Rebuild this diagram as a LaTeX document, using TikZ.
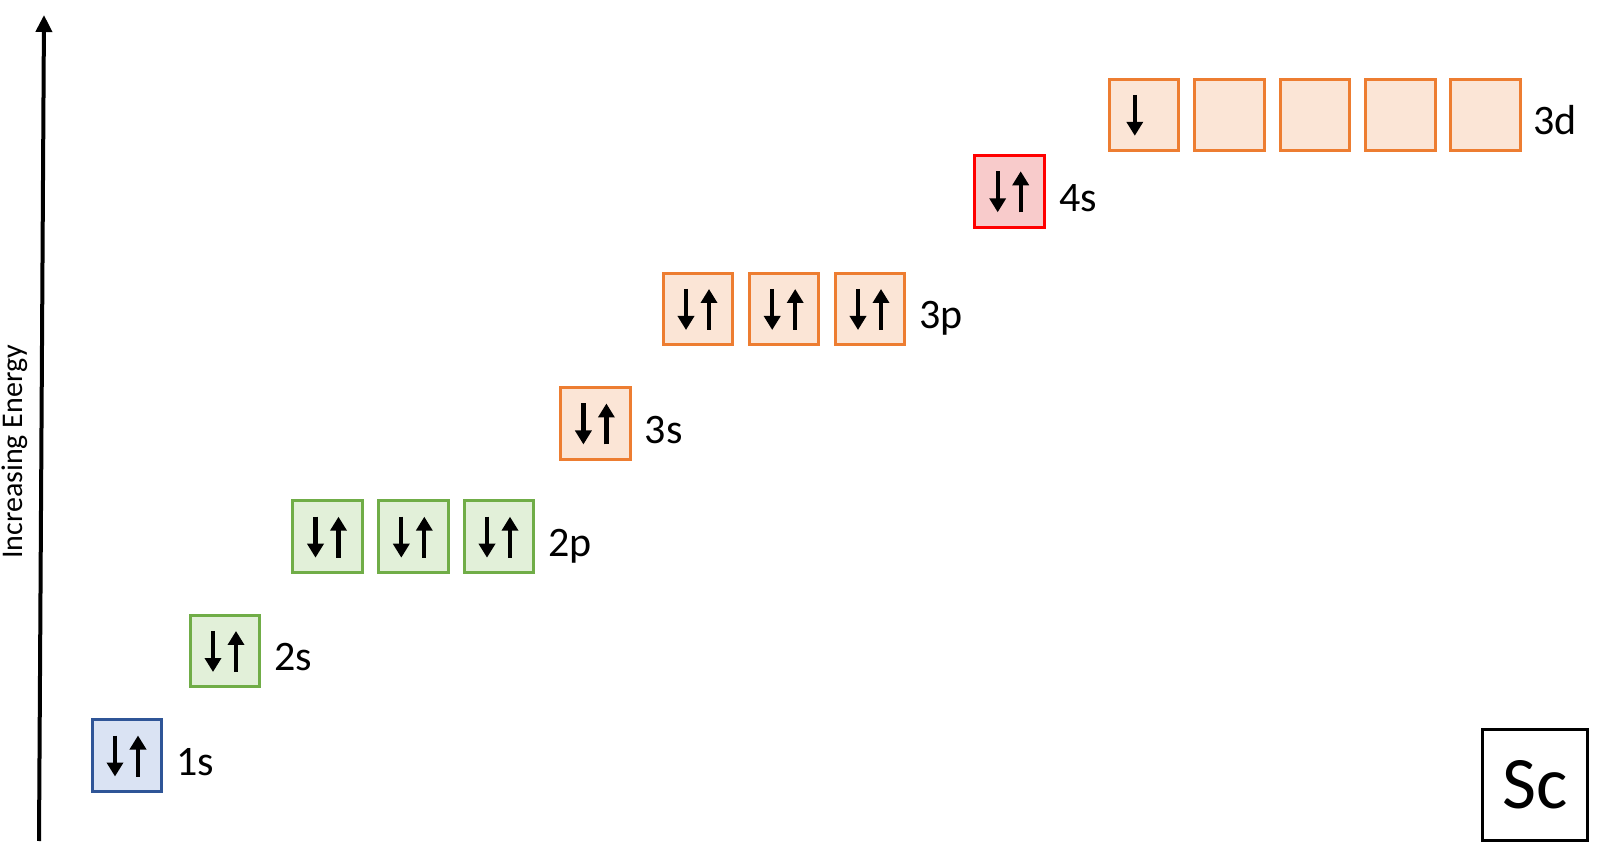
\documentclass[tikz,border=0pt]{standalone}
\usepackage{fontspec}
\setmainfont{Carlito}
\usetikzlibrary{arrows.meta}
\definecolor{bluefill}{HTML}{DAE3F3}
\definecolor{blueline}{HTML}{2F5597}
\definecolor{greenfill}{HTML}{E2F0D9}
\definecolor{greenline}{HTML}{70AD47}
\definecolor{orfill}{HTML}{FBE5D6}
\definecolor{orline}{HTML}{ED7D31}
\definecolor{redfill}{HTML}{F8CBCB}
\definecolor{redline}{HTML}{FF0000}
\newcommand\pairspin[1]{%
  \draw[spin] ([shift={(-12,20)}]#1.center) -- ([shift={(-12,-21)}]#1.center);
  \draw[spin] ([shift={(11,-21)}]#1.center) -- ([shift={(11,20)}]#1.center);}
\begin{document}
\begin{tikzpicture}[x=1pt,y=1pt,
  orb/.style={draw, line width=3pt, minimum width=69.5pt, minimum height=71.5pt, inner sep=0pt},
  bluebox/.style={orb, fill=bluefill, draw=blueline},
  greenbox/.style={orb, fill=greenfill, draw=greenline},
  orbox/.style={orb, fill=orfill, draw=orline},
  redbox/.style={orb, fill=redfill, draw=redline},
  spin/.style={line width=4.2pt, -{Triangle[width=16pt,length=14pt]}},
  lbl/.style={anchor=base west, inner sep=0pt, font=\fontsize{42}{50}\selectfont},
]
\useasboundingbox (0,0) rectangle (1600,857);
% axis
\coordinate (axb) at (39,16);
\coordinate (axt) at (44,842);
\draw[line width=4pt, -{Triangle[width=16pt,length=17pt]}] (axb) -- (axt);
\node[rotate=90, inner sep=0pt, font=\fontsize{30}{36}\selectfont] (axlbl) at (15,405) {Increasing Energy};
% 1s
\node[bluebox] (b1s) at (127,101.5) {};
\pairspin{b1s}
\node[lbl] (l1s) at ([xshift=13pt,yshift=-20pt]b1s.east) {1s};
% 2s
\node[greenbox] (b2s) at (225,206) {};
\pairspin{b2s}
\node[lbl] (l2s) at ([xshift=13pt,yshift=-20pt]b2s.east) {2s};
% 2p
\node[greenbox] (b2pa) at (327.5,320.3) {};
\node[greenbox] (b2pb) at (413.3,320.3) {};
\node[greenbox] (b2pc) at (499,320.3) {};
\pairspin{b2pa}\pairspin{b2pb}\pairspin{b2pc}
\node[lbl] (l2p) at ([xshift=13pt,yshift=-20pt]b2pc.east) {2p};
% 3s
\node[orbox] (b3s) at (595.4,433.5) {};
\pairspin{b3s}
\node[lbl] (l3s) at ([xshift=13pt,yshift=-20pt]b3s.east) {3s};
% 3p
\node[orbox] (b3pa) at (698,548) {};
\node[orbox] (b3pb) at (784.2,548) {};
\node[orbox] (b3pc) at (870,548) {};
\pairspin{b3pa}\pairspin{b3pb}\pairspin{b3pc}
\node[lbl] (l3p) at ([xshift=13pt,yshift=-20pt]b3pc.east) {3p};
% 4s
\node[redbox] (b4s) at (1009.7,665.7) {};
\pairspin{b4s}
\node[lbl] (l4s) at ([xshift=13pt,yshift=-20pt]b4s.east) {4s};
% 3d
\node[orbox] (b3da) at (1143.8,742.2) {};
\node[orbox] (b3db) at (1229.5,742.2) {};
\node[orbox] (b3dc) at (1315.2,742.2) {};
\node[orbox] (b3dd) at (1400.5,742.2) {};
\node[orbox] (b3de) at (1485.7,742.2) {};
\draw[spin] ([shift={(-9,20)}]b3da.center) -- ([shift={(-9,-21)}]b3da.center);
\node[lbl] (l3d) at ([xshift=11pt,yshift=-20pt]b3de.east) {3d};
% element
\node[draw, line width=3pt, minimum width=105pt, minimum height=111pt, inner sep=0pt,
      font=\fontsize{74}{86}\selectfont] (elem) at (1535,72) {Sc};
\end{tikzpicture}
\end{document}
